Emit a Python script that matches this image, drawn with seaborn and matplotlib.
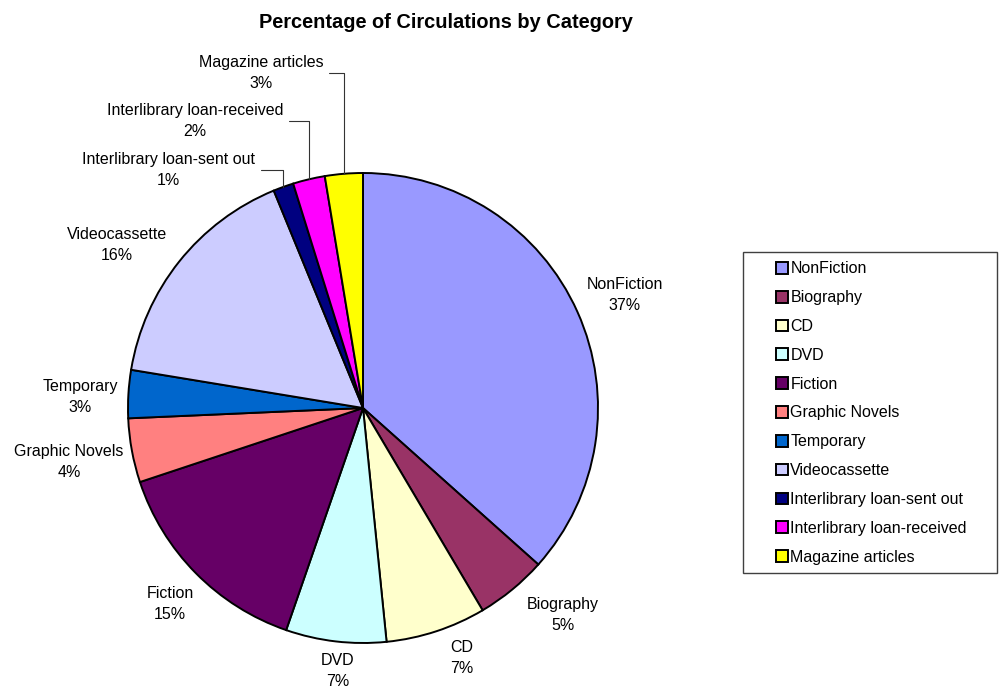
"""Pie chart: percentage of circulations by category"""

import matplotlib
matplotlib.use('Agg')
import matplotlib.pyplot as plt
from matplotlib.patches import Rectangle
import numpy as np
import seaborn as sns

W_PX, H_PX = 1000, 688
DPI = 100

CATEGORIES = ['NonFiction', 'Biography', 'CD', 'DVD', 'Fiction', 'Graphic Novels',
              'Temporary', 'Videocassette', 'Interlibrary loan-sent out',
              'Interlibrary loan-received', 'Magazine articles']
SHARES = [36.6, 4.9, 6.9, 6.9, 14.6, 4.4, 3.3, 16.2, 1.4, 2.2, 2.6]
COLORS = ['#9999FF', '#993366', '#FFFFCC', '#CCFFFF', '#660066', '#FF8080',
          '#0066CC', '#CCCCFF', '#000080', '#FF00FF', '#FFFF00']

# label block centres in pixels (origin top-left), and which get a leader line
LABEL_XY = [(625, 295), (563, 615), (462, 658), (338, 671), (170, 604), (69, 462),
            (80, 397), (117, 245), (168, 170), (195, 121), (261, 73)]
LEADER = [False] * 8 + [True, True, True]

CENTER = (363, H_PX - 408)
RADIUS = 235
FONT = 11.5


def main():
    sns.set_theme(style='white')
    plt.rcParams['font.family'] = ['Liberation Sans', 'DejaVu Sans']
    plt.rcParams['text.color'] = 'black'
    palette = sns.color_palette(COLORS)

    fig = plt.figure(figsize=(W_PX / DPI, H_PX / DPI), dpi=DPI)
    ax = fig.add_axes([0, 0, 1, 1])

    wedges, _ = ax.pie(SHARES, colors=palette, startangle=90, counterclock=False,
                       center=CENTER, radius=RADIUS,
                       wedgeprops=dict(edgecolor='black', linewidth=1.4))
    ax.set_xlim(0, W_PX)
    ax.set_ylim(0, H_PX)
    ax.set_aspect('equal')
    ax.axis('off')

    # Slice labels ################################################
    for wedge, name, share, (lx, ly), lead in zip(wedges, CATEGORIES, SHARES, LABEL_XY, LEADER):
        text = f'{name}\n{share:.0f}%'
        pos = (lx, H_PX - ly)
        if lead:
            mid = np.deg2rad((wedge.theta1 + wedge.theta2) / 2)
            edge = (CENTER[0] + RADIUS * np.cos(mid), CENTER[1] + RADIUS * np.sin(mid))
            ax.annotate(text, xy=edge, xytext=pos, ha='center', va='center',
                        fontsize=FONT, color='black', linespacing=1.55,
                        arrowprops=dict(arrowstyle='-', color='#333333', lw=0.8,
                                        connectionstyle='angle,angleA=0,angleB=90,rad=0',
                                        relpos=(1, 0.5), shrinkA=2, shrinkB=0))
        else:
            ax.text(pos[0], pos[1], text, ha='center', va='center',
                    fontsize=FONT, color='black', linespacing=1.55)

    fig.text(446 / W_PX, 1 - 22 / H_PX, 'Percentage of Circulations by Category',
             ha='center', va='center', fontsize=14.4, fontweight='bold', color='black')

    # Legend ################################################
    leg = ax.legend(wedges, CATEGORIES, loc='center left', frameon=False,
                    bbox_to_anchor=(776 / W_PX, 1 - 413 / H_PX), bbox_transform=fig.transFigure,
                    fontsize=FONT, handlelength=0.75, handleheight=0.75, handletextpad=0.15,
                    labelspacing=0.865, borderpad=0, borderaxespad=0)
    for t in leg.get_texts():
        t.set_color('black')
    fig.patches.append(Rectangle((743 / W_PX, 1 - 573 / H_PX), 254 / W_PX, 321 / H_PX,
                                 transform=fig.transFigure, fill=False,
                                 edgecolor='#404040', linewidth=1))

    fig.savefig('out.png', dpi=DPI, facecolor='white')
    plt.close(fig)


if __name__ == '__main__':
    main()
